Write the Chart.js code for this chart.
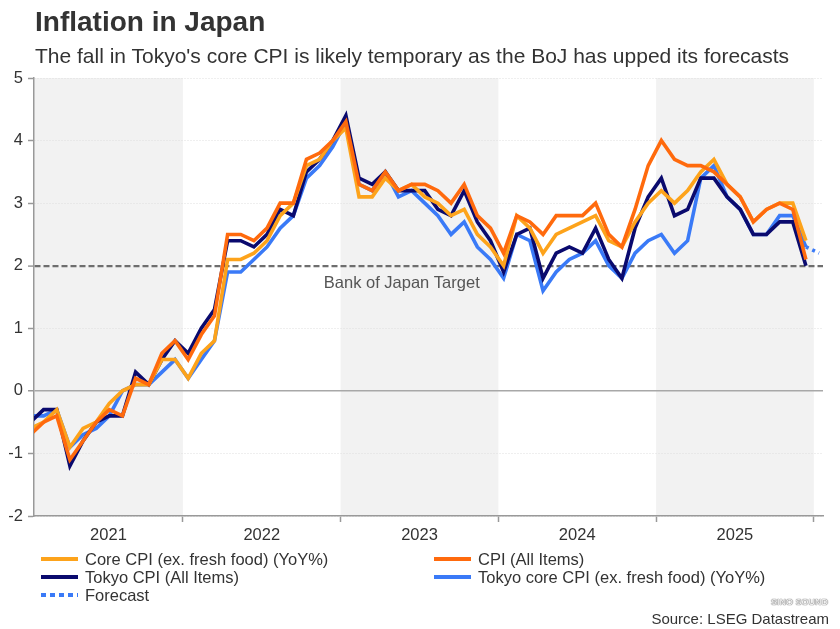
<!DOCTYPE html>
<html>
<head>
<meta charset="utf-8">
<title>Inflation in Japan</title>
<script src="https://cdn.jsdelivr.net/npm/chart.js@4.4.1/dist/chart.umd.min.js"></script>
<style>
  body { margin: 0; width: 840px; height: 629px; overflow: hidden; background: #fff;
         font-family: "Liberation Sans", Arial, sans-serif; color: #333; position: relative; }
  #chartBox { position: absolute; left: 0; top: 0; width: 840px; height: 629px; }
  .title { position: absolute; left: 35px; top: 8px; font-size: 28px; font-weight: bold; line-height: 1; color: #333; }
  .subtitle { position: absolute; left: 35px; top: 45px; font-size: 21px; line-height: 1; color: #333; white-space: nowrap; }
  .legend { position: absolute; left: 41px; top: 550px; display: grid;
            grid-template-columns: 393px 380px; font-size: 16.5px; line-height: 18px; color: #333; }
  .item { display: flex; align-items: center; white-space: nowrap; }
  .swatch { width: 37px; height: 4px; margin-right: 7px; flex: none; }
  .source { position: absolute; right: 11px; top: 611px; font-size: 15px; line-height: 15px; color: #333; }
  .mark { position: absolute; right: 12px; top: 597px; font-size: 9px; font-weight: bold; line-height: 10px;
          color: #eee; text-shadow: 0 0 1px #666, 0 0 1px #666; white-space: nowrap; }
</style>
</head>
<body>
<div id="chartBox"><canvas id="inflationChart"></canvas></div>
<div class="title">Inflation in Japan</div>
<div class="subtitle">The fall in Tokyo's core CPI is likely temporary as the BoJ has upped its forecasts</div>
<div class="legend" id="legend"></div>
<div class="mark">SINO SOUND</div>
<div class="source">Source: LSEG Datastream</div>

<script>
// monthly YoY %, Jan 2021 .. Dec 2025 (index 0 = Jan 2021)
const years = ['2021', '2022', '2023', '2024', '2025'];

const coreCPI = [
  -0.6, -0.5, -0.3, -0.9, -0.6, -0.5, -0.2, 0.0, 0.1, 0.1, 0.5, 0.5,
  0.2, 0.6, 0.8, 2.1, 2.1, 2.2, 2.4, 2.8, 3.0, 3.6, 3.7, 4.0,
  4.2, 3.1, 3.1, 3.4, 3.2, 3.3, 3.1, 3.0, 2.8, 2.9, 2.5, 2.3,
  2.0, 2.8, 2.6, 2.2, 2.5, 2.6, 2.7, 2.8, 2.4, 2.3, 2.7, 3.0,
  3.2, 3.0, 3.2, 3.5, 3.7, 3.3, 3.1, 2.7, 2.9, 3.0, 3.0, 2.4
];
const cpiAll = [
  -0.7, -0.5, -0.4, -1.1, -0.8, -0.5, -0.3, -0.4, 0.2, 0.1, 0.6, 0.8,
  0.5, 0.9, 1.2, 2.5, 2.5, 2.4, 2.6, 3.0, 3.0, 3.7, 3.8, 4.0,
  4.3, 3.3, 3.2, 3.5, 3.2, 3.3, 3.3, 3.2, 3.0, 3.3, 2.8, 2.6,
  2.2, 2.8, 2.7, 2.5, 2.8, 2.8, 2.8, 3.0, 2.5, 2.3, 2.9, 3.6,
  4.0, 3.7, 3.6, 3.6, 3.5, 3.3, 3.1, 2.7, 2.9, 3.0, 2.9, 2.1
];
const tokyoCPI = [
  -0.5, -0.3, -0.3, -1.2, -0.8, -0.5, -0.4, -0.4, 0.3, 0.1, 0.5, 0.8,
  0.6, 1.0, 1.3, 2.4, 2.4, 2.3, 2.5, 2.9, 2.8, 3.5, 3.7, 4.0,
  4.4, 3.4, 3.3, 3.5, 3.2, 3.2, 3.2, 2.9, 2.8, 3.2, 2.7, 2.4,
  1.9, 2.5, 2.6, 1.8, 2.2, 2.3, 2.2, 2.6, 2.1, 1.8, 2.6, 3.1,
  3.4, 2.8, 2.9, 3.4, 3.4, 3.1, 2.9, 2.5, 2.5, 2.7, 2.7, 2.0
];
const tokyoCore = [
  -0.4, -0.4, -0.3, -0.9, -0.7, -0.6, -0.4, 0.0, 0.1, 0.1, 0.3, 0.5,
  0.2, 0.5, 0.8, 1.9, 1.9, 2.1, 2.3, 2.6, 2.8, 3.4, 3.6, 3.9,
  4.3, 3.3, 3.2, 3.5, 3.1, 3.2, 3.0, 2.8, 2.5, 2.7, 2.3, 2.1,
  1.8, 2.5, 2.4, 1.6, 1.9, 2.1, 2.2, 2.4, 2.0, 1.8, 2.2, 2.4,
  2.5, 2.2, 2.4, 3.4, 3.6, 3.1, 2.9, 2.5, 2.5, 2.8, 2.8, 2.3
];
// forecast starts at the last Tokyo core month (Dec 2025)
const forecastStart = 59;
const forecast = [2.3, 2.2];

const yTicks = [-2, -1, 0, 1, 2, 3, 4, 5];
const bojTarget = 2;

// x axis: month index; a year starts 0.4 month before its January point
const yearOffset = -0.4;
const xMin = 0.27, xMax = 60.3;

const boundaries = years.map((y, k) => 12 * (k + 1) + yearOffset);
const centers = years.map((y, k) => {
  const start = Math.max(12 * k + yearOffset, xMin);
  return (start + 12 * (k + 1) + yearOffset) / 2;
});

const toPoints = (arr, start = 0) => arr.map((v, i) => ({ x: start + i, y: v }));

const series = [
  { label: 'CPI (All Items)', data: cpiAll, color: '#ff6a0d' },
  { label: 'Core CPI (ex. fresh food) (YoY%)', data: coreCPI, color: '#fda31b' },
  { label: 'Tokyo CPI (All Items)', data: tokyoCPI, color: '#0a0a6e' },
  { label: 'Tokyo core CPI (ex. fresh food) (YoY%)', data: tokyoCore, color: '#3a7af7' }
];

const datasets = series.map(s => ({
  label: s.label,
  data: toPoints(s.data),
  borderColor: s.color,
  borderWidth: 3.6,
  pointRadius: 0,
  tension: 0,
  fill: false,
  clip: 0
}));
datasets.push({
  label: 'Forecast',
  data: toPoints(forecast, forecastStart),
  borderColor: '#3a7af7',
  borderWidth: 3.6,
  borderDash: [3, 4],
  borderCapStyle: 'butt',
  pointRadius: 0,
  fill: false,
  clip: 0
});

// alternating year shading, odd years grey
const bandsPlugin = {
  id: 'bands',
  beforeDraw(chart) {
    const { ctx, chartArea, scales } = chart;
    ctx.save();
    ctx.fillStyle = '#f2f2f2';
    years.forEach((y, k) => {
      if (k % 2) return;
      const x0 = Math.max(scales.x.getPixelForValue(12 * k + yearOffset), chartArea.left);
      const x1 = Math.min(scales.x.getPixelForValue(12 * (k + 1) + yearOffset), chartArea.right);
      ctx.fillRect(x0, chartArea.top, x1 - x0, chartArea.bottom - chartArea.top);
    });
    ctx.restore();
  }
};

const targetLabel = {
  id: 'targetLabel',
  afterDatasetsDraw(chart) {
    const { ctx, scales } = chart;
    ctx.save();
    ctx.font = '16.5px "Liberation Sans", Arial, sans-serif';
    ctx.fillStyle = '#555';
    ctx.textAlign = 'center';
    ctx.textBaseline = 'middle';
    ctx.fillText('Bank of Japan Target', scales.x.getPixelForValue(28.25), scales.y.getPixelForValue(bojTarget) + 18);
    ctx.restore();
  }
};

const isBoundary = v => boundaries.some(b => Math.abs(b - v) < 1e-6);

new Chart(document.getElementById('inflationChart'), {
  type: 'line',
  data: { datasets },
  plugins: [bandsPlugin, targetLabel],
  options: {
    responsive: true,
    maintainAspectRatio: false,
    animation: false,
    layout: { padding: { left: 0, right: 17, top: 78, bottom: 83 } },
    plugins: { legend: { display: false }, tooltip: { enabled: false } },
    scales: {
      x: {
        type: 'linear',
        min: xMin,
        max: xMax,
        afterBuildTicks(scale) {
          scale.ticks = boundaries.concat(centers).sort((a, b) => a - b).map(v => ({ value: v }));
        },
        afterFit(scale) { scale.height = 30; },
        ticks: {
          autoSkip: false,
          maxRotation: 0,
          padding: 4,
          color: '#333',
          font: { size: 16.5, family: '"Liberation Sans", Arial, sans-serif' },
          callback(value) {
            const k = centers.findIndex(c => Math.abs(c - value) < 1e-6);
            return k >= 0 ? years[k] : '';
          }
        },
        grid: {
          drawOnChartArea: false,
          tickLength: 6,
          tickWidth: 1.5,
          tickColor: ctx => (ctx.tick && isBoundary(ctx.tick.value)) ? '#999' : 'rgba(0,0,0,0)'
        },
        border: { color: '#999', width: 1.5 }
      },
      y: {
        min: -2,
        max: 5,
        afterBuildTicks(scale) {
          scale.ticks = yTicks.map(v => ({ value: v }));
        },
        afterFit(scale) { scale.width = 34; },
        ticks: {
          padding: 5,
          color: '#333',
          font: { size: 16.5, family: '"Liberation Sans", Arial, sans-serif' }
        },
        grid: {
          tickLength: 6,
          tickWidth: 1.5,
          tickColor: '#999',
          tickBorderDash: [],
          color: ctx => {
            const v = ctx.tick ? ctx.tick.value : null;
            if (v === 0) return '#a8a8a8';
            if (v === bojTarget) return '#6e6e6e';
            return '#dedede';
          },
          lineWidth: ctx => {
            const v = ctx.tick ? ctx.tick.value : null;
            if (v === 0) return 1.5;
            if (v === bojTarget) return 2.2;
            return 1;
          }
        },
        border: {
          color: '#999',
          width: 1.5,
          dash: ctx => {
            if (!ctx.tick) return [];
            const v = ctx.tick.value;
            if (v === 0) return [];
            if (v === bojTarget) return [6, 3];
            return [1, 2];
          }
        }
      }
    }
  }
});

// legend in the source's order, two columns
const legendOrder = [
  { label: series[1].label, color: series[1].color },
  { label: series[0].label, color: series[0].color },
  { label: series[2].label, color: series[2].color },
  { label: series[3].label, color: series[3].color },
  { label: 'Forecast', color: '#3a7af7', dotted: true }
];
document.getElementById('legend').innerHTML = legendOrder.map(it => {
  const bg = it.dotted
    ? `repeating-linear-gradient(to right, ${it.color} 0 5px, transparent 5px 9px)`
    : it.color;
  return `<div class="item"><span class="swatch" style="background:${bg}"></span>${it.label}</div>`;
}).join('');
</script>
</body>
</html>
